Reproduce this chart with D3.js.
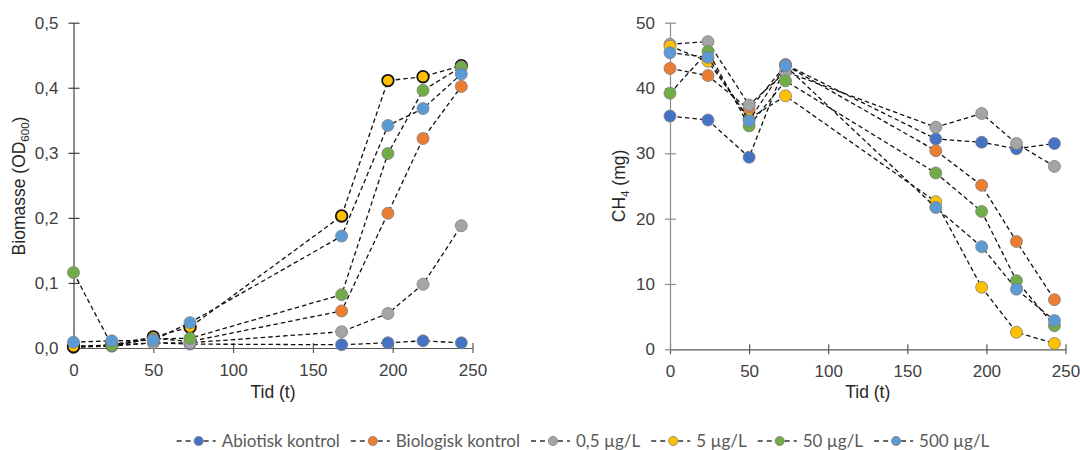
<!DOCTYPE html>
<html>
<head>
<meta charset="utf-8">
<script src="https://cdn.jsdelivr.net/npm/d3@7"></script>
<style>
  html, body { margin: 0; padding: 0; background: #fff; }
  svg { display: block; }
</style>
</head>
<body>
<svg id="chart" width="1080" height="450"></svg>
<script>
// Sampling times (hours)
const hours = [0, 24, 50, 73, 168, 197, 219, 243];

// Series names and colours
const seriesNames = ["Abiotisk kontrol", "Biologisk kontrol", "0,5 µg/L", "5 µg/L", "50 µg/L", "500 µg/L"];
const seriesColors = ["#4472C4", "#ED7D31", "#A5A5A5", "#FFC000", "#70AD47", "#5B9BD5"];

// Biomass (OD600)
const odAbiotic = [0.003, 0.004, 0.008, 0.006, 0.005, 0.008, 0.011, 0.008];
const odBiologic = [0.002, 0.003, 0.015, 0.010, 0.057, 0.207, 0.322, 0.402];
const od05 = [0.001, 0.003, 0.008, 0.008, 0.025, 0.053, 0.098, 0.188];
const od5 = [0.002, 0.005, 0.017, 0.032, 0.203, 0.411, 0.417, 0.434];
const od50 = [0.116, 0.004, 0.014, 0.015, 0.082, 0.299, 0.396, 0.432];
const od500 = [0.009, 0.011, 0.012, 0.039, 0.172, 0.342, 0.368, 0.421];

// Methane (mg)
const ch4Abiotic = [35.7, 35.1, 29.4, 43.6, 32.2, 31.7, 30.7, 31.5];
const ch4Biologic = [43.0, 41.9, 36.7, 43.5, 30.4, 25.1, 16.5, 7.6];
const ch405 = [46.7, 47.1, 37.4, 42.5, 34.0, 36.1, 31.5, 28.0];
const ch45 = [46.4, 44.1, 35.3, 38.8, 22.6, 9.5, 2.6, 0.9];
const ch450 = [39.2, 45.6, 34.2, 41.1, 27.0, 21.1, 10.5, 3.6];
const ch4500 = [45.4, 44.7, 35.0, 43.4, 21.7, 15.7, 9.2, 4.4];

const xTicks = [0, 50, 100, 150, 200, 250];
const odTicks = [0, 0.1, 0.2, 0.3, 0.4, 0.5];
const ch4Ticks = [0, 10, 20, 30, 40, 50];

const odSeries = [odAbiotic, odBiologic, od05, od5, od50, od500];
const ch4Series = [ch4Abiotic, ch4Biologic, ch405, ch45, ch450, ch4500];

const svg = d3.select("#chart");
const tickFont = "'Liberation Sans', Arial, sans-serif";
const legendFont = "Lato, 'Open Sans', sans-serif";
const fmtComma = d3.format(".1f");

function drawPanel(opts) {
  const x = d3.scaleLinear().domain([0, 250]).range(opts.xRange);
  const y = d3.scaleLinear().domain(opts.yDomain).range(opts.yRange);
  const g = svg.append("g");

  // x axis with crossing tick marks
  const xAxis = g.append("g")
    .attr("transform", `translate(0,${opts.yRange[0]})`)
    .call(d3.axisBottom(x).tickValues(xTicks).tickSize(0).tickPadding(15.5).tickFormat(d3.format("d")));
  xAxis.select(".domain").attr("stroke", "#595959").attr("stroke-width", 1.2);
  xAxis.selectAll(".tick").append("line")
    .attr("y1", -5).attr("y2", 5).attr("stroke", "#595959").attr("stroke-width", 1.2);
  xAxis.selectAll("text").attr("font-family", tickFont).attr("font-size", 17).attr("fill", "#404040");

  // y axis with crossing tick marks
  const yAxis = g.append("g")
    .attr("transform", `translate(${opts.xRange[0]},0)`)
    .call(d3.axisLeft(y).tickValues(opts.yTicks).tickSize(0).tickPadding(15).tickFormat(opts.yFormat));
  yAxis.select(".domain").attr("stroke", opts.yAxisColor).attr("stroke-width", 1.2);
  yAxis.selectAll(".tick").append("line")
    .attr("x1", -5).attr("x2", 6).attr("stroke", opts.yAxisColor).attr("stroke-width", 1.2);
  yAxis.selectAll("text").attr("font-family", tickFont).attr("font-size", 17).attr("fill", "#404040");

  // axis titles
  g.append("text")
    .attr("x", (opts.xRange[0] + opts.xRange[1]) / 2)
    .attr("y", 398)
    .attr("text-anchor", "middle")
    .attr("font-family", tickFont).attr("font-size", 17.5).attr("fill", "#262626")
    .text("Tid (t)");

  const yt = g.append("text")
    .attr("transform", `translate(${opts.yTitleX},186) rotate(-90)`)
    .attr("text-anchor", "middle")
    .attr("font-family", tickFont).attr("font-size", 17.5).attr("fill", "#262626");
  yt.append("tspan").text(opts.yTitle[0]);
  yt.append("tspan").attr("font-size", 11.5).attr("dy", 4).text(opts.yTitle[1]);
  yt.append("tspan").attr("dy", -4).text(opts.yTitle[2]);

  // series: dashed line then markers
  const line = d3.line().x((d, i) => x(hours[i])).y(d => y(d));
  opts.series.forEach((vals, s) => {
    const sg = g.append("g");
    sg.append("path")
      .attr("d", line(vals))
      .attr("fill", "none")
      .attr("stroke", "#111")
      .attr("stroke-width", 1.3)
      .attr("stroke-dasharray", "4.5,3");
    const bold = opts.boldSeries === s;
    sg.selectAll("circle").data(vals).join("circle")
      .attr("cx", (d, i) => x(hours[i]))
      .attr("cy", d => y(d))
      .attr("r", bold ? 5.8 : 6)
      .attr("fill", seriesColors[s])
      .attr("stroke", bold ? "#111" : "#7f7f7f")
      .attr("stroke-width", bold ? 1.8 : 0.8);
  });
}

drawPanel({
  xRange: [73.5, 472.5],
  yRange: [348, 22.7],
  yDomain: [0, 0.5],
  yTicks: odTicks,
  yFormat: d => fmtComma(d).replace(".", ","),
  yAxisColor: "#404040",
  yTitleX: 25,
  yTitle: ["Biomasse (OD", "600", ")"],
  series: odSeries,
  boldSeries: 3
});

drawPanel({
  xRange: [670, 1065.5],
  yRange: [349.3, 22.7],
  yDomain: [0, 50],
  yTicks: ch4Ticks,
  yFormat: d3.format("d"),
  yAxisColor: "#8c8c8c",
  yTitleX: 625,
  yTitle: ["CH", "4", " (mg)"],
  series: ch4Series,
  boldSeries: -1
});

// Legend along the bottom
const legend = svg.append("g");
let cursor = 0;
seriesNames.forEach((name, i) => {
  const it = legend.append("g").attr("transform", `translate(${cursor},0)`);
  it.append("line")
    .attr("x1", 0).attr("x2", 39).attr("y1", 0).attr("y2", 0)
    .attr("stroke", "#333").attr("stroke-width", 1.3).attr("stroke-dasharray", "5,4");
  it.append("circle")
    .attr("cx", 22).attr("cy", 0).attr("r", 4.6)
    .attr("fill", seriesColors[i]).attr("stroke", "#7f7f7f").attr("stroke-width", 0.8);
  const t = it.append("text")
    .attr("x", 45).attr("y", 6)
    .attr("font-family", legendFont).attr("font-size", 17).attr("fill", "#595959")
    .text(name);
  const w = t.node().getComputedTextLength();
  cursor += 45 + w + 11;
});
const total = cursor - 11;
legend.attr("transform", `translate(${583 - total / 2},441)`);
</script>
</body>
</html>
